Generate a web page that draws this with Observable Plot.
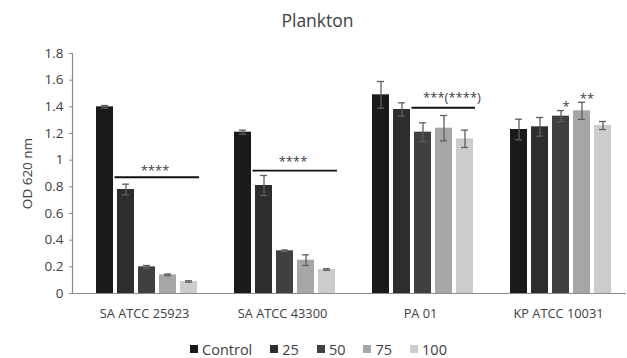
<!DOCTYPE html>
<html>
<head>
<meta charset="utf-8">
<script src="https://cdn.jsdelivr.net/npm/d3@7"></script>
<script src="https://cdn.jsdelivr.net/npm/@observablehq/plot@0.6"></script>
<style>
  html, body { margin: 0; padding: 0; background: #fff; }
  #wrap { width: 627px; height: 358px; font-family: "Open Sans", sans-serif; color: #595959; }
  #title { height: 40px; box-sizing: border-box; padding-left: 8px; text-align: center; font-size: 17.5px; line-height: 40px; color: #404040; }
  #legend { display: flex; justify-content: center; align-items: center; height: 20px; margin-top: 9px; font-size: 14.5px; padding-left: 10px; color: #404040; }
  #legend .item { display: flex; align-items: center; margin: 0 9px; }
  #legend .sw { width: 8px; height: 8px; margin-right: 4px; }
</style>
</head>
<body>
<div id="wrap">
  <div id="title">Plankton</div>
  <div id="chart"></div>
  <div id="legend"></div>
</div>
<script>
const categories = ["SA ATCC 25923", "SA ATCC 43300", "PA 01", "KP ATCC 10031"];
const series = ["Control", "25", "50", "75", "100"];
const seriesColors = ["#1a1a1a", "#2d2d2d", "#404040", "#a6a6a6", "#cccccc"];

const valControl = [1.40, 1.21, 1.49, 1.23];
const val25 = [0.78, 0.81, 1.38, 1.25];
const val50 = [0.20, 0.32, 1.21, 1.33];
const val75 = [0.14, 0.25, 1.24, 1.37];
const val100 = [0.09, 0.18, 1.16, 1.26];

const errControl = [0.01, 0.015, 0.10, 0.077];
const err25 = [0.04, 0.075, 0.05, 0.07];
const err50 = [0.01, 0.006, 0.07, 0.042];
const err75 = [0.006, 0.04, 0.095, 0.064];
const err100 = [0.005, 0.006, 0.065, 0.03];

const yTicks = [0, 0.2, 0.4, 0.6, 0.8, 1, 1.2, 1.4, 1.6, 1.8];

// significance brackets
const sigCategory = ["SA ATCC 25923", "SA ATCC 43300", "PA 01"];
const sigFrom = ["25", "25", "50"];
const sigTo = ["100", "100", "100"];
const sigLineY = [0.872, 0.922, 1.393];
const sigLabel = ["****", "****", "***(****)"];
const sigLabelAt = ["50", "50", "75"];
const sigLabelY = [0.92, 0.985, 1.465];

// single-bar stars
const starCategory = ["KP ATCC 10031", "KP ATCC 10031"];
const starSeries = ["50", "75"];
const starY = [1.40, 1.46];
const starLabel = ["*", "**"];

const values = [valControl, val25, val50, val75, val100];
const errs = [errControl, err25, err50, err75, err100];
const data = [];
categories.forEach((c, ci) => series.forEach((s, si) => {
  data.push({category: c, series: s, value: values[si][ci], lo: values[si][ci] - errs[si][ci], hi: values[si][ci] + errs[si][ci]});
}));
const sig = sigCategory.map((c, i) => ({category: c, from: sigFrom[i], to: sigTo[i], y: sigLineY[i], label: sigLabel[i], at: sigLabelAt[i], ly: sigLabelY[i]}));
const stars = starCategory.map((c, i) => ({category: c, series: starSeries[i], y: starY[i], label: starLabel[i]}));

const ML = 71;
const chart = Plot.plot({
  width: 627,
  height: 290,
  marginLeft: ML,
  marginRight: 2,
  marginTop: 13,
  marginBottom: 37,
  style: {fontFamily: "Open Sans, sans-serif", fontSize: "13px", color: "#595959", background: "#fff", overflow: "visible"},
  fx: {domain: categories, padding: 0, label: null},
  x: {domain: series, range: [ML + 22.3, ML + 125.3], paddingInner: 0.21, paddingOuter: 0, axis: null},
  y: {domain: [0, 1.8]},
  color: {domain: series, range: seriesColors},
  marks: [
    Plot.frame({anchor: "left", facetAnchor: "left", stroke: "#8c8c8c", strokeWidth: 1.2}),
    Plot.axisY({ticks: yTicks, tickFormat: d => String(+d.toFixed(1)), tickSize: 3, tickPadding: 6, stroke: "#8c8c8c",
      label: "OD 620 nm", labelAnchor: "center", labelArrow: "none", labelOffset: 50, fill: "#404040", fontSize: 13.5}),
    Plot.axisFx({anchor: "bottom", tickSize: 0, tickPadding: 15, label: null, fontSize: 12.8, dx: 3, fill: "#404040"}),
    Plot.barY(data, {fx: "category", x: "series", y: "value", fill: "series"}),
    Plot.ruleX(data, {fx: "category", x: "series", y1: "lo", y2: "hi", stroke: "#5f5f5f", strokeWidth: 1.3}),
    Plot.tickY(data, {fx: "category", x: "series", y: "hi", stroke: "#5f5f5f", strokeWidth: 1.3, insetLeft: 5, insetRight: 5}),
    Plot.tickY(data, {fx: "category", x: "series", y: "lo", stroke: "#5f5f5f", strokeWidth: 1.3, insetLeft: 5, insetRight: 5}),
    Plot.ruleY([0], {stroke: "#8c8c8c", strokeWidth: 1.2, insetRight: -2}),
    Plot.ruleY(sig, {fx: "category", x1: "from", x2: "to", y: "y", stroke: "#111", strokeWidth: 1.8, insetLeft: -2.5, insetRight: -2}),
    Plot.text(sig, {fx: "category", x: "at", y: "ly", text: "label", dx: 8, fontSize: 13, fill: "#404040"}),
    Plot.text(stars, {fx: "category", x: "series", y: "y", text: "label", dx: 5, fontSize: 13, fill: "#404040"})
  ]
});
document.getElementById("chart").appendChild(chart);

const legend = document.getElementById("legend");
series.forEach((s, i) => {
  const item = document.createElement("div");
  item.className = "item";
  const sw = document.createElement("span");
  sw.className = "sw";
  sw.style.background = seriesColors[i];
  const t = document.createElement("span");
  t.textContent = s;
  item.appendChild(sw);
  item.appendChild(t);
  legend.appendChild(item);
});
</script>
</body>
</html>
